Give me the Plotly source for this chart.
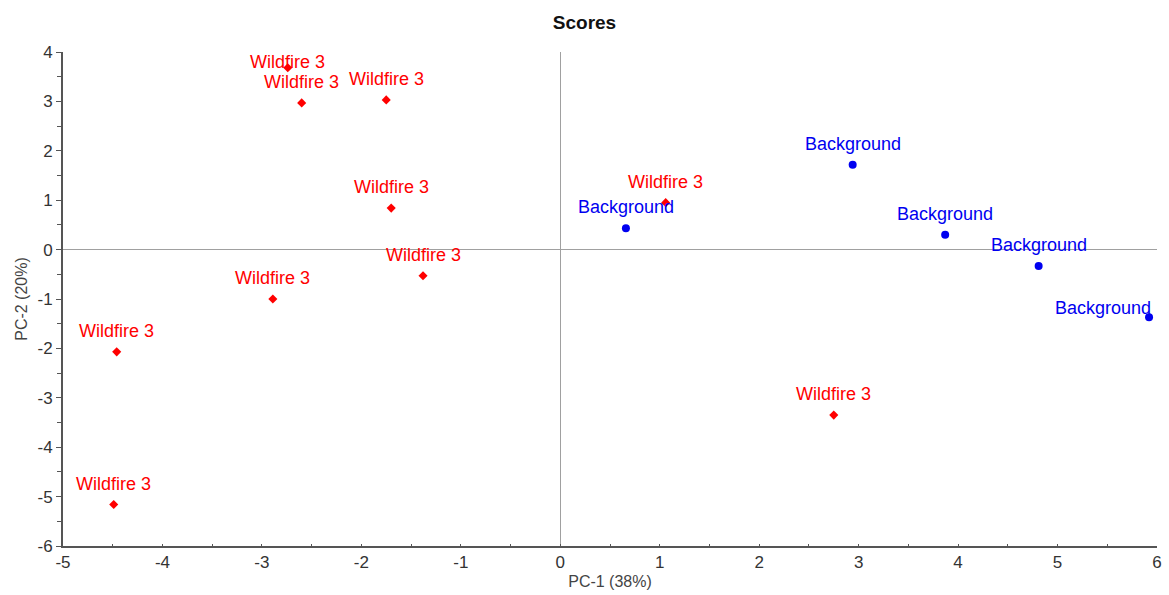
import plotly.graph_objects as go

# PCA scores (PC-1, PC-2) per sample
wildfire_pc1 = [-2.74, -2.60, -1.75, -1.70, -1.38, -2.89, -4.46, -4.49, 2.75, 1.06]
wildfire_pc2 = [3.68, 2.97, 3.03, 0.84, -0.53, -1.00, -2.07, -5.16, -3.35, 0.95]
wildfire_labels = ["Wildfire 3"] * len(wildfire_pc1)

background_pc1 = [0.66, 2.94, 3.87, 4.81, 5.92]
background_pc2 = [0.43, 1.72, 0.30, -0.33, -1.37]
background_labels = ["Background"] * len(background_pc1)

x_ticks = [-5, -4, -3, -2, -1, 0, 1, 2, 3, 4, 5, 6]
x_tick_text = ["-5", "-4", "-3", "-2", "-1", "0", "1", "2", "3", "4", "5", "6"]
y_ticks = [-6, -5, -4, -3, -2, -1, 0, 1, 2, 3, 4]
y_tick_text = ["-6", "-5", "-4", "-3", "-2", "-1", "0", "1", "2", "3", "4"]

RED = "#ff0000"
BLUE = "#0000f0"
FONT = "Liberation Sans, Arial, sans-serif"
LABEL_FONT = dict(family=FONT, size=18)

# default label placement above each marker; a few are nudged to avoid overlaps
DEFAULT_SHIFT = (0, 21)
wildfire_shift = {0: (0, 6)}
background_shift = {4: (-46, 9)}

fig = go.Figure()
fig.add_trace(go.Scatter(
    x=wildfire_pc1, y=wildfire_pc2, mode="markers", name="Wildfire 3",
    marker=dict(symbol="diamond", size=7, color=RED),
    showlegend=False,
))
fig.add_trace(go.Scatter(
    x=background_pc1, y=background_pc2, mode="markers", name="Background",
    marker=dict(symbol="circle", size=8, color=BLUE),
    showlegend=False,
))

annotations = []
for i, (x, y, t) in enumerate(zip(wildfire_pc1, wildfire_pc2, wildfire_labels)):
    dx, dy = wildfire_shift.get(i, DEFAULT_SHIFT)
    annotations.append(dict(x=x, y=y, text=t, showarrow=False, xshift=dx, yshift=dy,
                            font=dict(color=RED, **LABEL_FONT)))
for i, (x, y, t) in enumerate(zip(background_pc1, background_pc2, background_labels)):
    dx, dy = background_shift.get(i, DEFAULT_SHIFT)
    annotations.append(dict(x=x, y=y, text=t, showarrow=False, xshift=dx, yshift=dy,
                            font=dict(color=BLUE, **LABEL_FONT)))

axis_common = dict(
    showgrid=False, automargin=False,
    zeroline=True, zerolinecolor="#a0a0a0", zerolinewidth=1,
    showline=True, linecolor="#555555", linewidth=2,
    tickwidth=1, tickcolor="#555555",
    tickfont=dict(family=FONT, size=17, color="#333333"),
    title_font=dict(family=FONT, size=16, color="#444444"),
)

fig.update_layout(
    width=1169, height=595,
    margin=dict(l=63, r=12, t=52, b=49),
    paper_bgcolor="white", plot_bgcolor="white",
    title=dict(text="<b>Scores</b>", x=0.5, xanchor="center", y=0.962, yanchor="middle",
               font=dict(family=FONT, size=19, color="#111111")),
    xaxis=dict(range=[-5, 6], tickvals=x_ticks, ticktext=x_tick_text,
               ticks="inside", ticklen=2,
               minor=dict(ticks="inside", dtick=0.5, ticklen=2, tickcolor="#555555"),
               title=dict(text="PC-1 (38%)", standoff=4), **axis_common),
    yaxis=dict(range=[-6, 4], tickvals=y_ticks, ticktext=y_tick_text,
               ticks="outside", ticklen=5,
               minor=dict(ticks="outside", dtick=0.5, ticklen=4, tickcolor="#555555"),
               title=dict(text="PC-2 (20%)", standoff=6), **axis_common),
    annotations=annotations,
)

fig.write_html("out.html")
